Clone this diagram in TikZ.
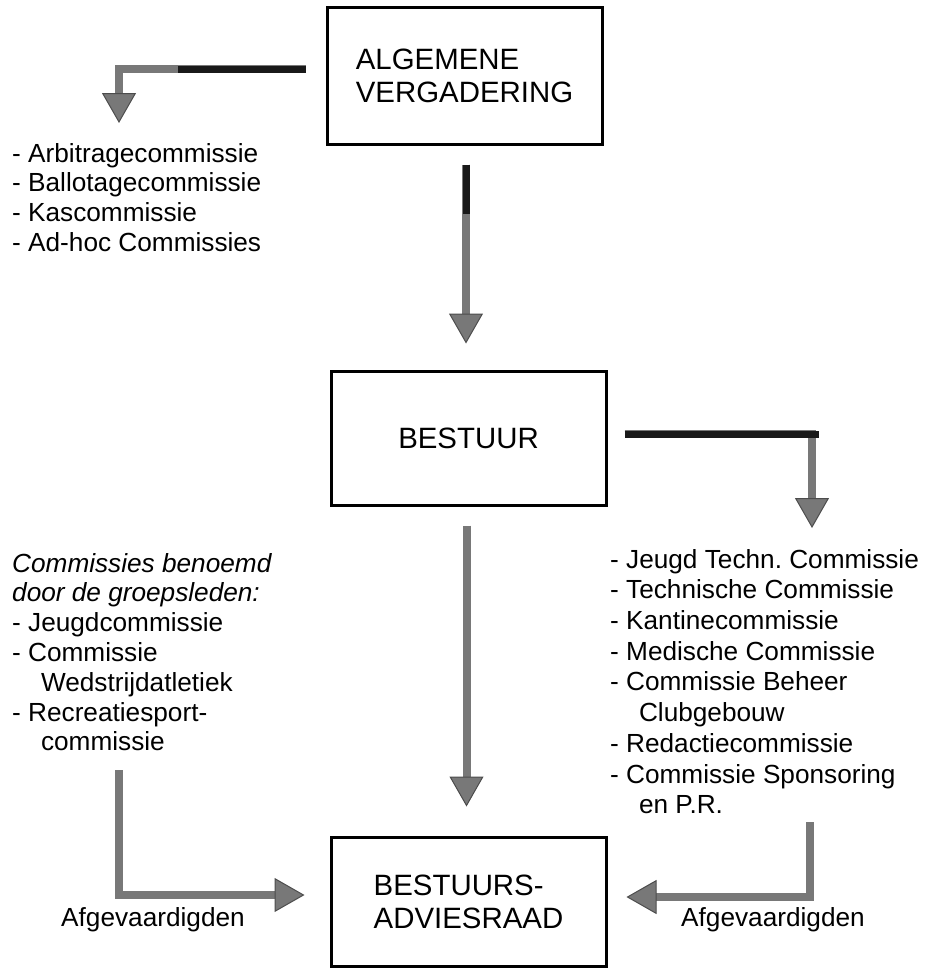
\documentclass[tikz,border=0pt]{standalone}
\usepackage{fontspec}
\setmainfont{Liberation Sans}
\usepackage{tikz}
\usetikzlibrary{arrows.meta, calc}
\definecolor{shaftgray}{gray}{0.47}
\definecolor{bargray}{gray}{0.1}
\frenchspacing
\tikzset{
    orgbox/.style={rectangle, draw=black, line width=3pt, fill=white, align=left, minimum width=275pt, font=\fontsize{29.4}{33}\selectfont},
    commlist/.style={anchor=north west, align=left, inner sep=0pt, font=\fontsize{26.2}{29.8}\selectfont},
    widelist/.style={commlist, font=\fontsize{26.2}{30.7}\selectfont},
    afglabel/.style={inner sep=0pt, font=\fontsize{26.2}{29.8}\selectfont},
    arrow/.style={draw=shaftgray, line width=8pt, -{Triangle[width=34pt, length=30pt, line width=1pt, color=black!70, fill=shaftgray]}},
    blackbar/.style={draw=bargray, line width=7pt}
}

\begin{document}
\begin{tikzpicture}[x=1pt, y=-1pt]
    \useasboundingbox (0,0) rectangle (925,970);

    % Boxes
    \node[orgbox, minimum height=137pt] (av) at (464.5,75.5) {ALGEMENE\\VERGADERING};
    \node[orgbox, minimum height=134pt] (bestuur) at (468.5,438) {BESTUUR};
    \node[orgbox, minimum height=129pt] (raad) at (468.5,901.5) {BESTUURS-\\ADVIESRAAD};

    % Commissies
    \node[commlist] (comA) at (12,143) {- Arbitragecommissie\\- Ballotagecommissie\\- Kascommissie\\- Ad-hoc Commissies};
    \node[commlist] (comL) at (12,553) {\textit{Commissies benoemd}\\\textit{door de groepsleden:}\\- Jeugdcommissie\\- Commissie\\\hspace*{1.1em}Wedstrijdatletiek\\- Recreatiesport-\\\hspace*{1.1em}commissie};
    \node[widelist] (comR) at (610,549) {- Jeugd Techn. Commissie\\- Technische Commissie\\- Kantinecommissie\\- Medische Commissie\\- Commissie Beheer\\\hspace*{1.1em}Clubgebouw\\- Redactiecommissie\\- Commissie Sponsoring\\\hspace*{1.1em}en P.R.};

    \node[afglabel] (afgL) at (153,920) {Afgevaardigden};
    \node[afglabel] (afgR) at (773,920) {Afgevaardigden};

    % Arrows
    \draw[arrow, shorten <=20pt, shorten >=20pt] ([yshift=6.5pt]av.west) -| ([xshift=107pt]comA.north west);
    \draw[blackbar] ([xshift=-20pt,yshift=6.5pt]av.west) -- ++(-128,0);

    \draw[arrow, shorten <=19pt, shorten >=26pt] ([xshift=1.5pt]av.south) -- ([xshift=1.5pt]av.south |- bestuur.north);
    \draw[blackbar] ([xshift=1.5pt,yshift=-19pt]av.south) -- ++(0,49);

    \draw[arrow, shorten <=17pt, shorten >=21pt] ([yshift=4pt]bestuur.east) -| ([xshift=202pt]comR.north west);
    \draw[blackbar] ([xshift=17pt,yshift=4pt]bestuur.east) -- ++(194,0);

    \draw[arrow, shorten <=19pt, shorten >=29pt] ([xshift=-2pt]bestuur.south) -- ([xshift=-2pt]bestuur.south |- raad.north);

    \draw[arrow, shorten <=19pt, shorten >=25pt] ([xshift=107pt]comL.south west) |- ([yshift=6.5pt]raad.west);
    \draw[arrow, shorten <=8pt, shorten >=19pt] ([xshift=200pt]comR.south west) |- ([yshift=4.5pt]raad.east);
\end{tikzpicture}
\end{document}
